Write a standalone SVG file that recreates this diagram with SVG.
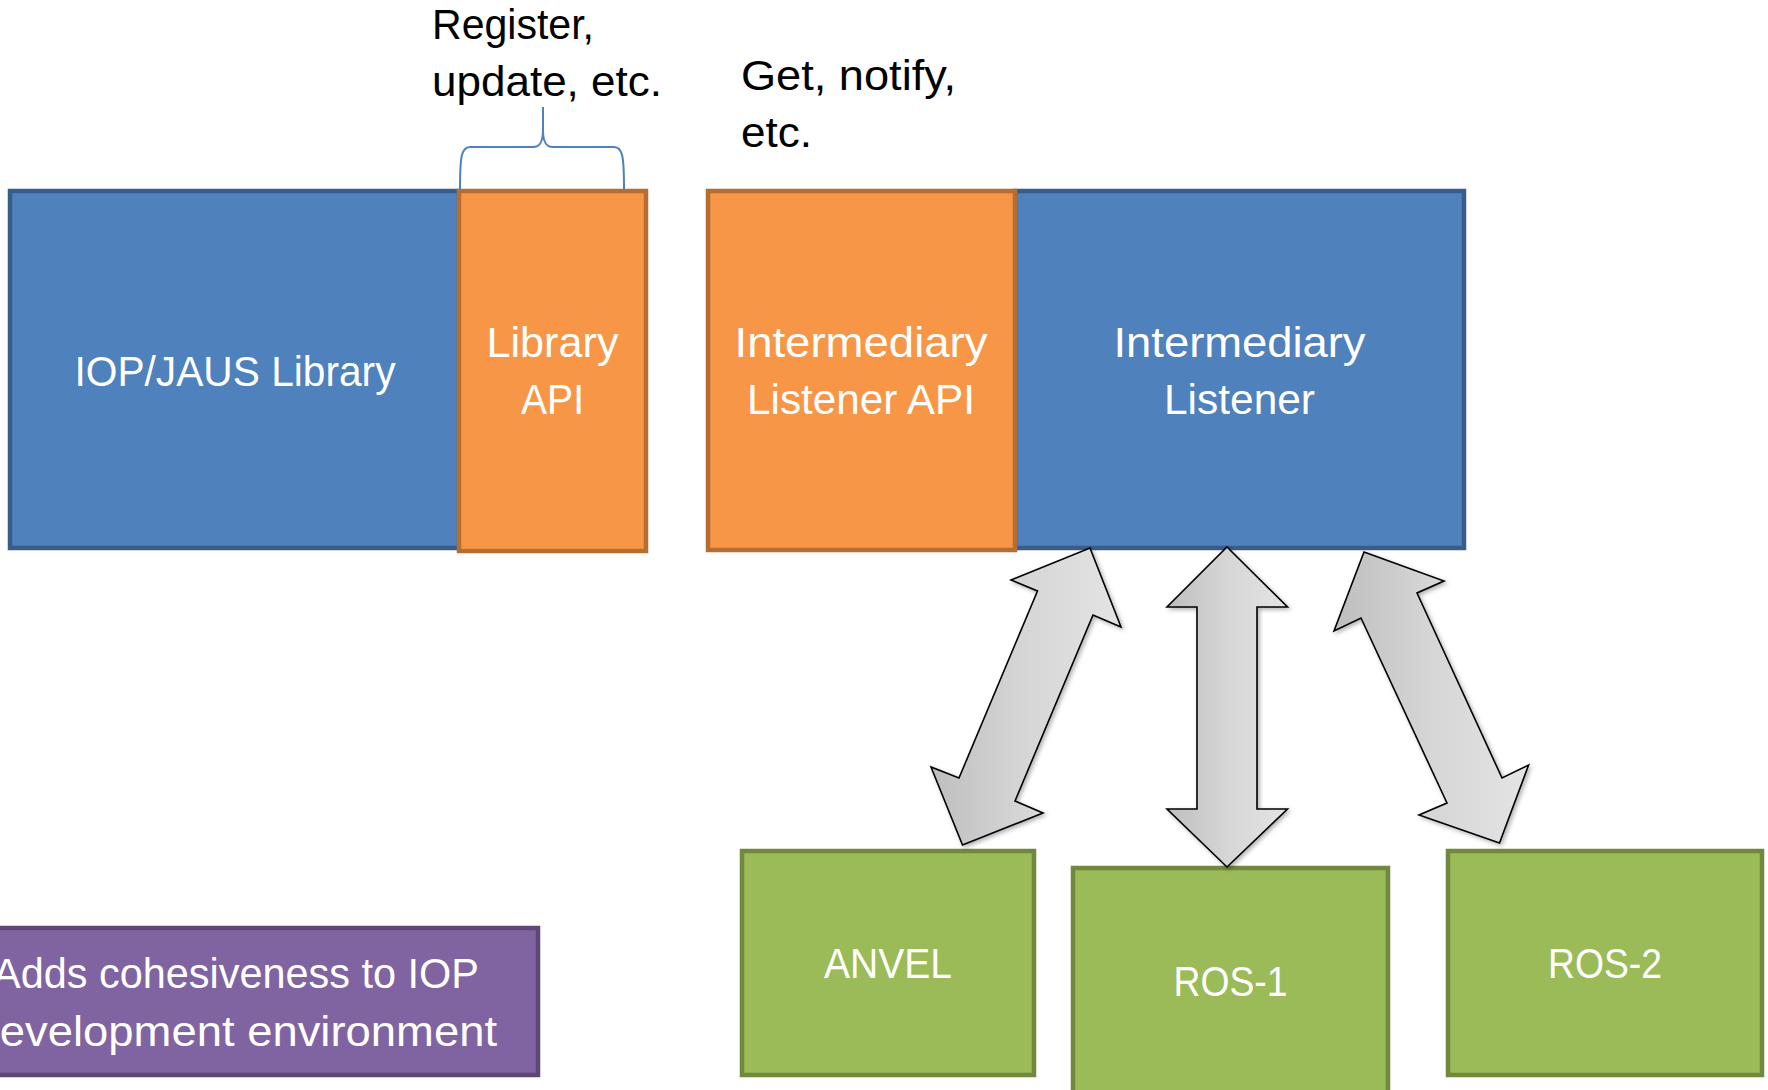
<svg xmlns="http://www.w3.org/2000/svg" width="1768" height="1090" viewBox="0 0 1768 1090">
  <style>
    .t { font-family: "Liberation Sans", Arial, sans-serif; font-size: 42px; }
    .w { fill: #FFFFFF; text-anchor: middle; }
    .k { fill: #000000; }
    .blue { fill: #4F81BD; stroke: #385D8A; stroke-width: 4.5; }
    .orange { fill: #F79646; stroke: #B66D31; stroke-width: 4.5; }
    .green { fill: #9BBB59; stroke: #71893F; stroke-width: 4.5; }
    .purple { fill: #8064A2; stroke: #5C4776; stroke-width: 4.5; }
    .arrow { fill: url(#gray); stroke: #000000; stroke-width: 1.6; stroke-linejoin: miter; filter: url(#shadow); }
    .brace { fill: none; stroke: #4F81BD; stroke-width: 2; }
  </style>
  <defs>
    <linearGradient id="gray" x1="0" y1="0" x2="1" y2="0">
      <stop offset="0" stop-color="#BEBEBE"/>
      <stop offset="0.5" stop-color="#D6D6D6"/>
      <stop offset="1" stop-color="#E4E4E4"/>
    </linearGradient>
    <filter id="shadow" x="-20%" y="-20%" width="140%" height="140%">
      <feDropShadow dx="2" dy="2" stdDeviation="2" flood-color="#000000" flood-opacity="0.3"/>
    </filter>
  </defs>
  <rect width="1768" height="1090" fill="#FFFFFF"/>

  <g id="iop-jaus-library">
    <rect class="blue" x="10" y="191" width="449" height="357"/>
    <text class="t w" x="235" y="386" textLength="321" lengthAdjust="spacingAndGlyphs">IOP/JAUS Library</text>
  </g>
  <g id="library-api">
    <rect class="orange" x="459" y="191" width="187" height="360"/>
    <text class="t w" x="552.5" y="357" textLength="132" lengthAdjust="spacingAndGlyphs">Library</text>
    <text class="t w" x="552.5" y="414" textLength="63" lengthAdjust="spacingAndGlyphs">API</text>
  </g>
  <g id="intermediary-listener">
    <rect class="blue" x="1015" y="191" width="449" height="357"/>
    <text class="t w" x="1239.5" y="357" textLength="252" lengthAdjust="spacingAndGlyphs">Intermediary</text>
    <text class="t w" x="1239.5" y="414" textLength="151" lengthAdjust="spacingAndGlyphs">Listener</text>
  </g>
  <g id="intermediary-listener-api">
    <rect class="orange" x="708" y="191" width="307" height="359"/>
    <text class="t w" x="861" y="357" textLength="253" lengthAdjust="spacingAndGlyphs">Intermediary</text>
    <text class="t w" x="861" y="414" textLength="228" lengthAdjust="spacingAndGlyphs">Listener API</text>
  </g>
  <g id="label-register">
    <text class="t k" x="432" y="39" textLength="162" lengthAdjust="spacingAndGlyphs">Register,</text>
    <text class="t k" x="432" y="96" textLength="230" lengthAdjust="spacingAndGlyphs">update, etc.</text>
    <path class="brace" d="M460,190 C460,158 461,147 470,147 L533,147 C540,147 543,142 543,130 L543,107 L543,130 C543,142 546,147 553,147 L614,147 C623,147 624,158 624,190"/>
  </g>
  <g id="label-get">
    <text class="t k" x="741" y="90" textLength="215" lengthAdjust="spacingAndGlyphs">Get, notify,</text>
    <text class="t k" x="741" y="147" textLength="71" lengthAdjust="spacingAndGlyphs">etc.</text>
  </g>
  <g id="anvel">
    <rect class="green" x="742" y="851" width="292" height="224"/>
    <text class="t w" x="888" y="978" textLength="128" lengthAdjust="spacingAndGlyphs">ANVEL</text>
  </g>
  <g id="ros-1">
    <rect class="green" x="1073" y="868" width="315" height="240"/>
    <text class="t w" x="1230.5" y="996" textLength="114" lengthAdjust="spacingAndGlyphs">ROS-1</text>
  </g>
  <g id="ros-2">
    <rect class="green" x="1448" y="851" width="314" height="224"/>
    <text class="t w" x="1605" y="978" textLength="114" lengthAdjust="spacingAndGlyphs">ROS-2</text>
  </g>
  <g id="cohesiveness-note">
    <rect class="purple" x="-65" y="928" width="603" height="147"/>
    <text class="t w" x="236" y="988" textLength="486" lengthAdjust="spacingAndGlyphs">Adds cohesiveness to IOP</text>
    <text class="t w" x="232" y="1046" textLength="530" lengthAdjust="spacingAndGlyphs">Development environment</text>
  </g>

  <g id="connectors">
    <polygon class="arrow" points="1090,548 1121,627 1093,615 1015,801 1043,813 962.5,845 931,767 959,778 1037.5,591 1011,580"/>
    <polygon class="arrow" points="1227,547 1287.5,607 1257,607 1257,809 1287.5,809 1227,867 1167,809 1197,809 1197,607 1167,607"/>
    <polygon class="arrow" points="1364,552 1444,581 1417,593 1502,778 1528.6,765 1499.5,843 1419,815 1447,803 1361,618 1334,631"/>
  </g>
</svg>
